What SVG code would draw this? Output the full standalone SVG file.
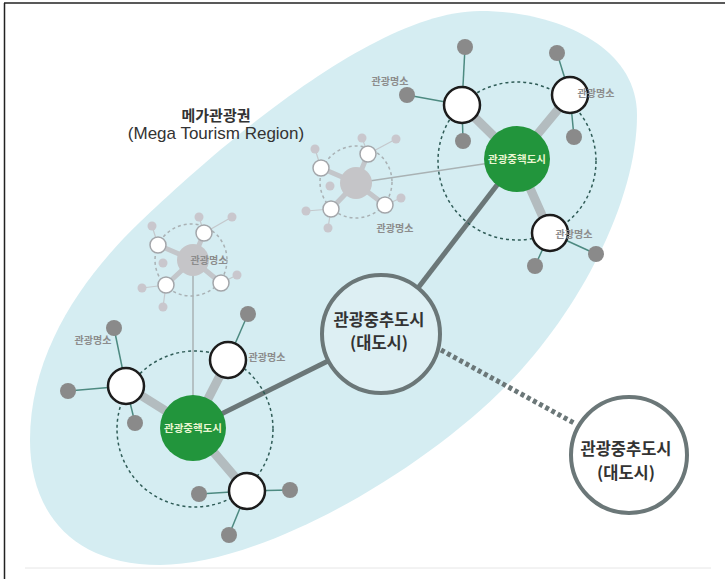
<svg xmlns="http://www.w3.org/2000/svg" width="725" height="579" viewBox="0 0 725 579">
<defs>
<style>
.kr{font-family:"Noto Sans CJK KR","Noto Sans",sans-serif}
.lbl{font-family:"Noto Sans CJK KR",sans-serif;font-size:10px;font-weight:700;fill:#8c8c8c;text-anchor:middle}
.glbl{font-family:"Noto Sans CJK KR",sans-serif;font-size:10.5px;font-weight:700;fill:#eaf6d2;text-anchor:middle}
.big{font-family:"Noto Sans CJK KR",sans-serif;font-size:16.5px;font-weight:700;fill:#333;text-anchor:middle}
.green{fill:#22953c}
.ring{fill:none;stroke:#2f5c57;stroke-width:1.5;stroke-dasharray:3 3}
.fring{fill:none;stroke:#a9b1b4;stroke-width:1.5;stroke-dasharray:3 3}
.spoke{stroke:#b3bcbf;stroke-width:9;stroke-linecap:round}
.fspoke{stroke:#c3c6ca;stroke-width:5;stroke-linecap:round}
.wn{fill:#fff;stroke:#1c1c1c;stroke-width:2.5}
.fwn{fill:#fff;stroke:#a3a6aa;stroke-width:1.5}
.tl{stroke:#4d8a81;stroke-width:1.5}
.ftl{stroke:#c4c8cc;stroke-width:1.2}
.dot{fill:#8a8a8a}
.fdot{fill:#c9c7cd}
.thick{stroke:#6b7778;stroke-width:5;fill:none}
.thin{stroke:#a9b2b4;stroke-width:1.5;fill:none}
</style>
</defs>
<rect width="725" height="579" fill="#fff"/>
<!-- frame -->
<line x1="4" y1="3" x2="725" y2="3" stroke="#222" stroke-width="1.5"/>
<line x1="4.5" y1="3" x2="4.5" y2="579" stroke="#222" stroke-width="1.5"/>
<line x1="25" y1="568" x2="711" y2="568" stroke="#e6e6e6" stroke-width="1"/>

<g id="region">
<path d="M480,11 C555,11 637,45 637,115 C637,200 580,310 508,384 C420,474 260,565 160,565 C70,565 30,510 30,440 C30,350 85,275 140,222 C205,160 370,11 480,11 Z" fill="#d5edf2"/>
<text class="kr" x="216" y="121" font-size="15" font-weight="700" fill="#333" text-anchor="middle">메가관광권</text>
<text x="216" y="139" font-family="Liberation Sans, sans-serif" font-size="17" fill="#333" text-anchor="middle">(Mega Tourism Region)</text>
</g>

<g id="connectors">
<line class="thin" x1="356" y1="183" x2="517" y2="159"/>
<line class="thin" x1="193" y1="260" x2="193" y2="428"/>
<line class="thick" x1="193" y1="428" x2="328" y2="361"/>
<line class="thick" x1="517" y1="159" x2="418" y2="288"/>
<line x1="441" y1="350" x2="574" y2="423" stroke="#6b7778" stroke-width="5" stroke-dasharray="4 3"/>
</g>

<g id="cluster-mid-faded">
<circle class="fring" cx="356" cy="182" r="36"/>
<line class="ftl" x1="321" y1="168" x2="315" y2="149"/>
<line class="ftl" x1="368" y1="154" x2="362" y2="138"/>
<line class="ftl" x1="368" y1="154" x2="396" y2="139"/>
<line class="ftl" x1="331" y1="209" x2="306" y2="211"/>
<line class="ftl" x1="331" y1="209" x2="328" y2="228"/>
<line class="ftl" x1="385" y1="205" x2="401" y2="198"/>
<line class="fspoke" x1="356" y1="183" x2="321" y2="168"/>
<line class="fspoke" x1="356" y1="183" x2="368" y2="154"/>
<line class="fspoke" x1="356" y1="183" x2="331" y2="209"/>
<line class="fspoke" x1="356" y1="183" x2="385" y2="205"/>
<circle cx="356" cy="183" r="16" fill="#c5c5c8"/>
<circle class="fdot" cx="315" cy="149" r="4.5"/>
<circle class="fdot" cx="362" cy="138" r="4.5"/>
<circle class="fdot" cx="396" cy="139" r="4.5"/>
<circle class="fdot" cx="330" cy="186" r="4.5"/>
<circle class="fdot" cx="306" cy="211" r="4.5"/>
<circle class="fdot" cx="328" cy="228" r="4.5"/>
<circle class="fdot" cx="401" cy="198" r="4.5"/>
<circle class="fwn" cx="321" cy="168" r="8"/>
<circle class="fwn" cx="368" cy="154" r="8"/>
<circle class="fwn" cx="331" cy="209" r="8"/>
<circle class="fwn" cx="385" cy="205" r="8"/>
<text class="lbl" x="395" y="232">관광명소</text>
</g>

<g id="cluster-left-faded">
<circle class="fring" cx="191" cy="260" r="36"/>
<line class="ftl" x1="158" y1="245" x2="152" y2="226"/>
<line class="ftl" x1="204" y1="233" x2="199" y2="217"/>
<line class="ftl" x1="204" y1="233" x2="232" y2="217"/>
<line class="ftl" x1="166" y1="285" x2="142" y2="288"/>
<line class="ftl" x1="166" y1="285" x2="163" y2="307"/>
<line class="ftl" x1="221" y1="283" x2="237" y2="275"/>
<line class="fspoke" x1="193" y1="260" x2="158" y2="245"/>
<line class="fspoke" x1="193" y1="260" x2="204" y2="233"/>
<line class="fspoke" x1="193" y1="260" x2="166" y2="285"/>
<line class="fspoke" x1="193" y1="260" x2="221" y2="283"/>
<circle cx="193" cy="260" r="16" fill="#c5c5c8"/>
<circle class="fdot" cx="152" cy="226" r="4.5"/>
<circle class="fdot" cx="199" cy="217" r="4.5"/>
<circle class="fdot" cx="232" cy="217" r="4.5"/>
<circle class="fdot" cx="163" cy="263" r="4.5"/>
<circle class="fdot" cx="142" cy="288" r="4.5"/>
<circle class="fdot" cx="163" cy="307" r="4.5"/>
<circle class="fdot" cx="237" cy="275" r="4.5"/>
<circle class="fwn" cx="158" cy="245" r="8"/>
<circle class="fwn" cx="204" cy="233" r="8"/>
<circle class="fwn" cx="166" cy="285" r="8"/>
<circle class="fwn" cx="221" cy="283" r="8"/>
<text class="lbl" x="209" y="264">관광명소</text>
</g>

<g id="cluster-top-right">
<circle class="ring" cx="517" cy="161" r="79"/>
<line class="tl" x1="462" y1="105" x2="465" y2="47"/>
<line class="tl" x1="462" y1="105" x2="407" y2="95"/>
<line class="tl" x1="462" y1="105" x2="463" y2="141"/>
<line class="tl" x1="570" y1="95" x2="557" y2="53"/>
<line class="tl" x1="570" y1="95" x2="574" y2="137"/>
<line class="tl" x1="550" y1="233" x2="596" y2="254"/>
<line class="tl" x1="550" y1="233" x2="535" y2="266"/>
<line class="spoke" x1="517" y1="159" x2="462" y2="105"/>
<line class="spoke" x1="517" y1="159" x2="570" y2="95"/>
<line class="spoke" x1="517" y1="159" x2="550" y2="233"/>
<circle class="dot" cx="465" cy="47" r="8"/>
<circle class="dot" cx="407" cy="95" r="8"/>
<circle class="dot" cx="463" cy="141" r="8"/>
<circle class="dot" cx="557" cy="53" r="8"/>
<circle class="dot" cx="574" cy="137" r="8"/>
<circle class="dot" cx="596" cy="254" r="8"/>
<circle class="dot" cx="535" cy="266" r="8"/>
<circle class="wn" cx="462" cy="105" r="18"/>
<circle class="wn" cx="570" cy="95" r="18"/>
<circle class="wn" cx="550" cy="233" r="18"/>
<circle class="green" cx="517" cy="159" r="33"/>
<text class="glbl" x="517" y="163">관광중핵도시</text>
<text class="lbl" x="390" y="85">관광명소</text>
<text class="lbl" x="596" y="97">관광명소</text>
<text class="lbl" x="574" y="238">관광명소</text>
</g>

<g id="cluster-bottom-left">
<circle class="ring" cx="195" cy="429" r="78"/>
<line class="tl" x1="126" y1="386" x2="114" y2="328"/>
<line class="tl" x1="126" y1="386" x2="68" y2="391"/>
<line class="tl" x1="126" y1="386" x2="135" y2="423"/>
<line class="tl" x1="228" y1="360" x2="248" y2="314"/>
<line class="tl" x1="247" y1="491" x2="199" y2="494"/>
<line class="tl" x1="247" y1="491" x2="290" y2="490"/>
<line class="tl" x1="247" y1="491" x2="229" y2="535"/>
<line class="spoke" x1="193" y1="428" x2="126" y2="386"/>
<line class="spoke" x1="193" y1="428" x2="228" y2="360"/>
<line class="spoke" x1="193" y1="428" x2="247" y2="491"/>
<circle class="dot" cx="114" cy="328" r="8"/>
<circle class="dot" cx="68" cy="391" r="8"/>
<circle class="dot" cx="135" cy="423" r="8"/>
<circle class="dot" cx="248" cy="314" r="8"/>
<circle class="dot" cx="199" cy="494" r="8"/>
<circle class="dot" cx="290" cy="490" r="8"/>
<circle class="dot" cx="229" cy="535" r="8"/>
<circle class="wn" cx="126" cy="386" r="18"/>
<circle class="wn" cx="228" cy="360" r="18"/>
<circle class="wn" cx="247" cy="491" r="18"/>
<circle class="green" cx="193" cy="428" r="33"/>
<text class="glbl" x="193" y="432">관광중핵도시</text>
<text class="lbl" x="93" y="344">관광명소</text>
<text class="lbl" x="267" y="361">관광명소</text>
</g>

<g id="hub-center">
<circle cx="381" cy="334" r="59" fill="#ddeff3" stroke="#6b7778" stroke-width="4"/>
<text class="big" x="379" y="326">관광중추도시</text>
<text class="big" x="379" y="349">(대도시)</text>
</g>

<g id="hub-right">
<circle cx="629" cy="455" r="58" fill="#fff" stroke="#6b7778" stroke-width="4"/>
<text class="big" x="626" y="455">관광중추도시</text>
<text class="big" x="626" y="479">(대도시)</text>
</g>
</svg>
